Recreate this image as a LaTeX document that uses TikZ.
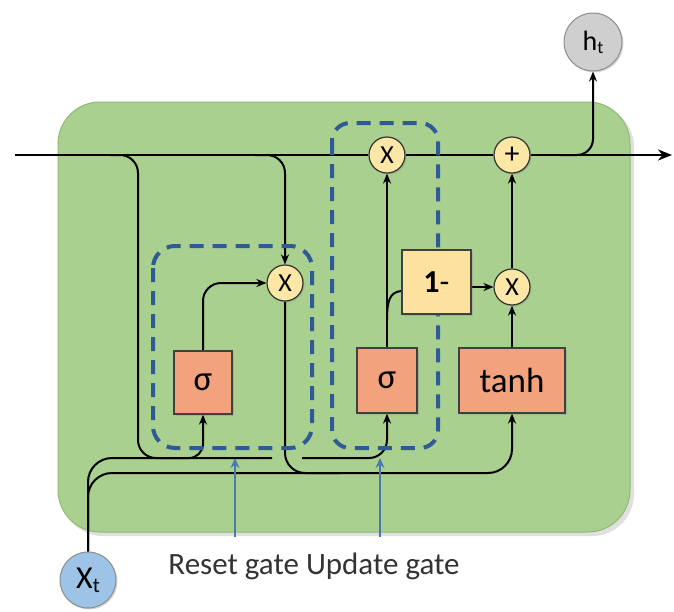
\documentclass[tikz,border=0pt]{standalone}
\usepackage{fontspec}
\setmainfont{Carlito}
\usetikzlibrary{arrows.meta,shadows,calc}
\definecolor{cellgreen}{HTML}{A9D08E}
\definecolor{celledge}{HTML}{8FBA72}
\definecolor{opfill}{HTML}{FDE7A6}
\definecolor{gatefill}{HTML}{F2A37E}
\definecolor{onefill}{HTML}{FCE29E}
\definecolor{dashblue}{HTML}{2F5A96}
\definecolor{arrblue}{HTML}{4A78B0}
\definecolor{htgray}{HTML}{CFCFCF}
\definecolor{xtblue}{HTML}{9DC3E6}
\pgfdeclarelayer{back}
\pgfdeclarelayer{bg}
\pgfsetlayers{back,bg,main}
\tikzset{
  op/.style={circle, draw=black!80, line width=1.2pt, fill=opfill, minimum size=36pt, inner sep=0pt,
    font=\fontsize{26}{26}\selectfont, drop shadow={shadow xshift=1.5pt, shadow yshift=-1.5pt, opacity=0.3}},
  gatebox/.style={rectangle, draw=black!75, line width=1.2pt, fill=gatefill, inner sep=0pt,
    font=\fontsize{35}{35}\selectfont, drop shadow={shadow xshift=2pt, shadow yshift=-2pt, opacity=0.3}},
  onebox/.style={rectangle, draw=black!75, line width=1.2pt, fill=onefill, inner sep=0pt,
    font=\fontsize{32}{32}\selectfont, drop shadow={shadow xshift=2pt, shadow yshift=-2pt, opacity=0.3}},
  termnode/.style={circle, draw=black!45, line width=1pt, inner sep=0pt,
    drop shadow={shadow xshift=1.5pt, shadow yshift=-1.5pt, opacity=0.3}},
  wire/.style={line width=2pt, black},
  dashbox/.style={draw=dashblue, line width=4pt, dash pattern=on 14pt off 9pt},
  bluearrow/.style={draw=arrblue, line width=1.6pt, -{Stealth[length=10pt,width=9pt]}},
  >={Stealth[length=10pt,width=8pt]}
}
\begin{document}
\begin{tikzpicture}[x=1pt,y=-1pt]
\useasboundingbox (0,0) rectangle (674,611);
% cell
\begin{pgfonlayer}{back}
\fill[black, opacity=0.12, rounded corners=42] (61,105) rectangle (634,536);
\draw[celledge, fill=cellgreen, line width=1pt, rounded corners=42] (58,102) rectangle (630,532);
\end{pgfonlayer}
% nodes
\node[op] (m0) at (387,155) {X};
\node[op, font=\fontsize{30}{30}\selectfont] (add) at (512,155) {+};
\node[op] (m1) at (285,283) {X};
\node[op] (m2) at (512,287) {X};
\node[gatebox, minimum width=58pt, minimum height=63pt] (s1) at (203,382.5) {σ};
\node[gatebox, minimum width=60pt, minimum height=65pt] (s2) at (387,380.5) {σ};
\node[gatebox, minimum width=106pt, minimum height=65pt] (th) at (512,380.5) {tanh};
\node[onebox, minimum width=69pt, minimum height=64pt] (om) at (436.5,282) {\textbf{1}-};
\node[termnode, fill=htgray, minimum size=58pt, font=\fontsize{28}{28}\selectfont] (h) at (593,42) {h\raisebox{-3pt}{\fontsize{18}{18}\selectfont t}};
\node[termnode, fill=xtblue, minimum size=56pt, font=\fontsize{32}{32}\selectfont] (x) at (88,580) {X\raisebox{-4pt}{\fontsize{21}{21}\selectfont t}};
\node[font=\fontsize{31}{34}\selectfont, text=black!80] (lab) at (314,566) {Reset gate Update gate};
\coordinate (L) at (15,155);
\coordinate (R) at (672,155);
\coordinate (ya) at (0,458);
\coordinate (yb) at (0,473);
\coordinate (rg) at (235,537);
\coordinate (ug) at (380,537);
% wires
\begin{pgfonlayer}{bg}
\draw[wire, line width=2.6pt] (L) -- (m0.west);
\draw[wire, line width=2.6pt] (m0.east) -- (add.west);
\draw[wire, line width=2.6pt, -{Stealth[length=14pt,width=11pt]}] (add.east) -- (R);
\draw[wire, ->, rounded corners=16] (560,155) -- (h.south |- L) -- (h.south);
% h(t-1) branches
\draw[wire, rounded corners=18] (110,155) -- (138,155) -- (138,458) -- (180,458);
\draw[wire, ->, rounded corners=18] (255,155) -- (m1.north |- L) -- (m1.north);
% x_t lines
\draw[wire, rounded corners=24] (x.north) -- (x.north |- ya) -- (272,458);
\draw[wire, ->, rounded corners=18] (302,458) -- (s2.south |- ya) -- (s2.south);
\draw[wire, ->, rounded corners=24] (x.north) -- (x.north |- yb) -- (th.south |- yb) -- (th.south);
\draw[wire, ->, rounded corners=14] (180,458) -- (s1.south |- ya) -- (s1.south);
% reset gate
\draw[wire, ->, rounded corners=18] (s1.north) -- (s1.north |- m1.west) -- (m1.west);
\draw[wire, rounded corners=20] (m1.south) -- (m1.south |- yb) -- (340,473);
% update gate
\draw[wire, line width=2.4pt, ->] (s2.north) -- (m0.south);
\draw[wire] (387,320) .. controls (387,300) and (390,292) .. ($(om.west)+(0,9)$);
\draw[wire, ->] (om.east |- m2.west) -- (m2.west);
\draw[wire, line width=2.4pt, ->] (th.north) -- (m2.south);
\draw[wire, line width=2.4pt, ->] (m2.north) -- (add.south);
% dashed gate outlines
\draw[dashbox, rounded corners=22] (153,246) rectangle (312,448);
\draw[dashbox, rounded corners=18] (332,123) rectangle (438,448);
% label arrows
\draw[bluearrow] (rg) -- (rg |- ya);
\draw[bluearrow] (ug) -- (ug |- ya);
\end{pgfonlayer}
\end{tikzpicture}
\end{document}
